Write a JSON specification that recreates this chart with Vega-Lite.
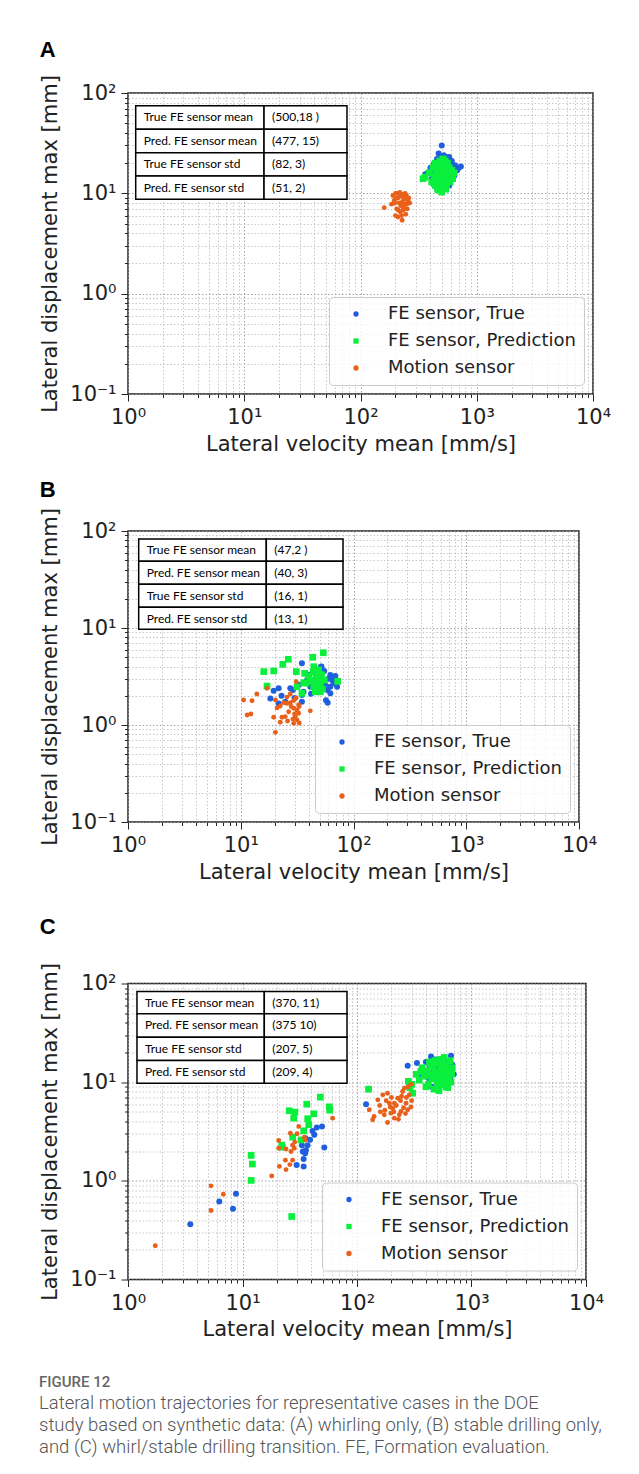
{
  "$schema": "https://vega.github.io/schema/vega-lite/v6.json",
  "background": "white",
  "padding": {"left": 39, "top": 37, "right": 5, "bottom": 5},
  "spacing": 31.5,
  "datasets": {
    "A_true": [
      {"vel":500,"disp":30},{"vel":470,"disp":25},{"vel":520,"disp":24},{"vel":545,"disp":23},{"vel":580,"disp":23},
      {"vel":455,"disp":22},{"vel":495,"disp":22},{"vel":610,"disp":21},{"vel":530,"disp":21},{"vel":430,"disp":20},
      {"vel":560,"disp":20},{"vel":600,"disp":19},{"vel":650,"disp":19},{"vel":700,"disp":18},{"vel":730,"disp":18.5},
      {"vel":680,"disp":17},{"vel":400,"disp":18},{"vel":380,"disp":16},{"vel":360,"disp":15.5},{"vel":420,"disp":17},
      {"vel":470,"disp":19},{"vel":510,"disp":19},{"vel":550,"disp":18},{"vel":590,"disp":17},{"vel":620,"disp":16},
      {"vel":480,"disp":17},{"vel":440,"disp":16},{"vel":520,"disp":16},{"vel":560,"disp":15},{"vel":500,"disp":14},
      {"vel":460,"disp":13},{"vel":540,"disp":13},{"vel":490,"disp":12},{"vel":450,"disp":11.5},{"vel":520,"disp":11},
      {"vel":600,"disp":14},{"vel":640,"disp":15},{"vel":410,"disp":14},{"vel":580,"disp":12},{"vel":470,"disp":15.5}
    ],
    "A_pred": [
      {"vel":360,"disp":14.5},{"vel":345,"disp":14},{"vel":390,"disp":16},{"vel":410,"disp":13},{"vel":420,"disp":18},
      {"vel":430,"disp":15},{"vel":440,"disp":12},{"vel":440,"disp":20},{"vel":450,"disp":17},{"vel":455,"disp":14},
      {"vel":460,"disp":11},{"vel":465,"disp":19},{"vel":470,"disp":16},{"vel":475,"disp":13},{"vel":480,"disp":21},
      {"vel":485,"disp":18},{"vel":490,"disp":15},{"vel":495,"disp":12},{"vel":500,"disp":10.3},{"vel":500,"disp":20},
      {"vel":505,"disp":17},{"vel":510,"disp":14},{"vel":515,"disp":11.5},{"vel":520,"disp":19},{"vel":525,"disp":16},
      {"vel":530,"disp":13},{"vel":535,"disp":21},{"vel":540,"disp":18},{"vel":545,"disp":15},{"vel":550,"disp":12},
      {"vel":555,"disp":17},{"vel":560,"disp":20},{"vel":565,"disp":14},{"vel":570,"disp":16},{"vel":580,"disp":18},
      {"vel":590,"disp":13},{"vel":600,"disp":15},{"vel":610,"disp":17},{"vel":620,"disp":14},{"vel":640,"disp":16},
      {"vel":460,"disp":12.5},{"vel":470,"disp":10.8},{"vel":480,"disp":11.3},{"vel":490,"disp":19.5},{"vel":515,"disp":22},
      {"vel":450,"disp":15.5},{"vel":520,"disp":13.5},{"vel":540,"disp":11},{"vel":430,"disp":12.5},{"vel":500,"disp":16}
    ],
    "A_motion": [
      {"vel":160,"disp":7.2},{"vel":185,"disp":7.8},{"vel":190,"disp":9.5},{"vel":195,"disp":8.5},{"vel":200,"disp":10},
      {"vel":200,"disp":6},{"vel":205,"disp":7},{"vel":210,"disp":9},{"vel":210,"disp":5.8},{"vel":215,"disp":8},
      {"vel":218,"disp":10.2},{"vel":220,"disp":6.5},{"vel":222,"disp":7.5},{"vel":225,"disp":9.3},{"vel":228,"disp":5.4},
      {"vel":230,"disp":8.3},{"vel":232,"disp":6.8},{"vel":235,"disp":9.8},{"vel":238,"disp":7.2},{"vel":240,"disp":8.8},
      {"vel":245,"disp":6.2},{"vel":248,"disp":9.5},{"vel":250,"disp":7.8},{"vel":255,"disp":8.5},{"vel":260,"disp":9},
      {"vel":265,"disp":8},{"vel":197,"disp":8},{"vel":207,"disp":10},{"vel":212,"disp":6.8},{"vel":226,"disp":6},
      {"vel":242,"disp":10},{"vel":252,"disp":7},{"vel":215,"disp":9.7},{"vel":235,"disp":7.9},{"vel":202,"disp":8.9}
    ],
    "B_true": [
      {"vel":34.9,"disp":4.33},{"vel":51.5,"disp":3.99},{"vel":62.3,"disp":3.27},{"vel":69,"disp":3.2},{"vel":66.7,"disp":2.69},
      {"vel":62.3,"disp":2.48},{"vel":71.6,"disp":2.48},{"vel":59,"disp":1.7},{"vel":62.3,"disp":2.12},{"vel":58.4,"disp":2.3},
      {"vel":41.4,"disp":2.48},{"vel":27.5,"disp":2.39},{"vel":21.7,"disp":2.39},{"vel":19.6,"disp":2.26},{"vel":18.3,"disp":1.88},
      {"vel":21.7,"disp":1.67},{"vel":24.8,"disp":1.74},{"vel":34.9,"disp":1.74},{"vel":34.9,"disp":2.04},{"vel":44.4,"disp":3.55},
      {"vel":47.8,"disp":3.15},{"vel":38.7,"disp":2.91},{"vel":52,"disp":4.0},{"vel":55,"disp":3.6},{"vel":60,"disp":3.0},
      {"vel":65,"disp":2.9},{"vel":57,"disp":1.8},{"vel":33,"disp":2.6},{"vel":29,"disp":2.3},{"vel":36,"disp":2.2},
      {"vel":45,"disp":2.7},{"vel":50,"disp":2.3},{"vel":40,"disp":3.3},{"vel":56,"disp":2.6},{"vel":23,"disp":2.0},
      {"vel":30,"disp":1.9},{"vel":42,"disp":2.1},{"vel":68,"disp":3.1}
    ],
    "B_pred": [
      {"vel":54,"disp":5.56},{"vel":43.5,"disp":4.99},{"vel":26.4,"disp":4.76},{"vel":23.6,"disp":4.22},{"vel":19.6,"disp":3.61},
      {"vel":16,"disp":3.55},{"vel":31.1,"disp":3.55},{"vel":36.9,"disp":3.41},{"vel":44.4,"disp":3.99},{"vel":46.8,"disp":3.15},
      {"vel":50.8,"disp":2.69},{"vel":72.4,"disp":2.82},{"vel":36.2,"disp":2.73},{"vel":44.4,"disp":2.48},{"vel":31.5,"disp":2.48},
      {"vel":34.9,"disp":2.12},{"vel":50.8,"disp":2.2},{"vel":17.1,"disp":2.52},{"vel":45.8,"disp":2.2},{"vel":44,"disp":3.5},
      {"vel":48,"disp":3.0},{"vel":52,"disp":3.3},{"vel":46,"disp":2.6},{"vel":50,"disp":2.4},{"vel":42,"disp":2.9},
      {"vel":55,"disp":2.9},{"vel":40,"disp":3.2},{"vel":47,"disp":2.25},{"vel":53,"disp":2.35},{"vel":49,"disp":3.7},
      {"vel":38,"disp":2.7}
    ],
    "B_motion": [
      {"vel":10.6,"disp":1.81},{"vel":12.6,"disp":1.78},{"vel":13.9,"disp":2.09},{"vel":17.1,"disp":2.39},{"vel":11.4,"disp":1.27},
      {"vel":12.3,"disp":1.3},{"vel":19.6,"disp":1.2},{"vel":23.2,"disp":1.2},{"vel":22.4,"disp":1.07},{"vel":20.3,"disp":0.84},
      {"vel":24,"disp":1.7},{"vel":25.7,"disp":1.67},{"vel":27.5,"disp":1.7},{"vel":29.5,"disp":1.49},{"vel":31.5,"disp":1.43},
      {"vel":32.6,"disp":1.32},{"vel":31.5,"disp":1.13},{"vel":29.5,"disp":1.04},{"vel":26.6,"disp":1.37},{"vel":41.4,"disp":1.4},
      {"vel":27.5,"disp":2.09},{"vel":22.4,"disp":1.57},{"vel":24.8,"disp":1.22},{"vel":30.5,"disp":1.22},{"vel":32.6,"disp":1.62},
      {"vel":29.5,"disp":1.79},{"vel":25.7,"disp":1.94},{"vel":20.3,"disp":1.81},{"vel":31,"disp":2.8},{"vel":33,"disp":1.05},
      {"vel":28,"disp":1.55},{"vel":30,"disp":1.3},{"vel":26,"disp":1.1},{"vel":21,"disp":1.5},{"vel":31,"disp":1.9},
      {"vel":29,"disp":1.15},{"vel":33,"disp":1.55}
    ],
    "C_true": [
      {"vel":3.5,"disp":0.363},{"vel":6.27,"disp":0.617},{"vel":8.26,"disp":0.52},{"vel":8.77,"disp":0.74},{"vel":29.7,"disp":1.45},
      {"vel":34.2,"disp":1.4},{"vel":34.2,"disp":1.66},{"vel":33.6,"disp":1.98},{"vel":35.8,"disp":2.04},{"vel":35.3,"disp":1.9},
      {"vel":38.9,"disp":2.61},{"vel":42.4,"disp":2.93},{"vel":44.5,"disp":3.47},{"vel":49.5,"disp":3.55},{"vel":51.8,"disp":2.18},
      {"vel":40.9,"disp":3.2},{"vel":33,"disp":2.3},{"vel":35.5,"disp":2.7},{"vel":37,"disp":2.3},{"vel":120,"disp":5.98},
      {"vel":277,"disp":14.7},{"vel":334,"disp":15.6},{"vel":443,"disp":18.2},{"vel":662,"disp":18.5},{"vel":400,"disp":16},
      {"vel":480,"disp":17},{"vel":520,"disp":16.5},{"vel":560,"disp":15},{"vel":600,"disp":16},{"vel":640,"disp":14},
      {"vel":680,"disp":15},{"vel":700,"disp":12},{"vel":380,"disp":13},{"vel":420,"disp":11},{"vel":460,"disp":12.5},
      {"vel":500,"disp":14},{"vel":540,"disp":12},{"vel":580,"disp":11},{"vel":620,"disp":10},{"vel":450,"disp":9},
      {"vel":510,"disp":8.5},{"vel":560,"disp":9.5},{"vel":650,"disp":11},{"vel":430,"disp":14.5},{"vel":350,"disp":12}
    ],
    "C_pred": [
      {"vel":26.9,"disp":0.435},{"vel":11.9,"disp":1.01},{"vel":12.2,"disp":1.48},{"vel":11.9,"disp":1.81},{"vel":22.3,"disp":2.19},
      {"vel":27.4,"disp":2.77},{"vel":25.6,"disp":5.13},{"vel":28.7,"disp":4.97},{"vel":28,"disp":4.32},{"vel":36.4,"disp":5.98},
      {"vel":47.8,"disp":7.05},{"vel":57.3,"disp":5.62},{"vel":57.8,"disp":5.2},{"vel":41.9,"disp":4.78},{"vel":37.1,"disp":4.26},
      {"vel":37.9,"disp":3.7},{"vel":34.2,"disp":3.21},{"vel":32.5,"disp":2.6},{"vel":22,"disp":2.3},{"vel":126,"disp":8.49},
      {"vel":281,"disp":10.2},{"vel":306,"disp":7.73},{"vel":290,"disp":8.8},{"vel":300,"disp":9.5},{"vel":578,"disp":17.8},
      {"vel":330,"disp":12},{"vel":350,"disp":10.5},{"vel":370,"disp":14},{"vel":390,"disp":11.5},{"vel":410,"disp":13},
      {"vel":420,"disp":9.5},{"vel":430,"disp":16},{"vel":440,"disp":12},{"vel":450,"disp":10.8},{"vel":460,"disp":14.5},
      {"vel":470,"disp":8.5},{"vel":480,"disp":13},{"vel":490,"disp":11},{"vel":500,"disp":15.5},{"vel":510,"disp":9},
      {"vel":520,"disp":12.5},{"vel":530,"disp":10},{"vel":540,"disp":14},{"vel":550,"disp":11.5},{"vel":560,"disp":16},
      {"vel":570,"disp":9.5},{"vel":580,"disp":13.5},{"vel":590,"disp":10.5},{"vel":600,"disp":12},{"vel":610,"disp":15},
      {"vel":620,"disp":8.8},{"vel":630,"disp":11},{"vel":640,"disp":13},{"vel":650,"disp":16.5},{"vel":660,"disp":10},
      {"vel":670,"disp":12},{"vel":680,"disp":14},{"vel":400,"disp":9},{"vel":440,"disp":15},{"vel":530,"disp":17},
      {"vel":470,"disp":11.8},{"vel":500,"disp":10},{"vel":520,"disp":8.2},{"vel":560,"disp":13},{"vel":600,"disp":9},
      {"vel":360,"disp":12.8},{"vel":480,"disp":16.5},{"vel":620,"disp":11.8}
    ],
    "C_motion": [
      {"vel":1.73,"disp":0.22},{"vel":5.31,"disp":0.89},{"vel":5.31,"disp":0.5},{"vel":6.8,"disp":0.73},{"vel":18,"disp":1.12},
      {"vel":21,"disp":1.4},{"vel":24,"disp":1.3},{"vel":20.7,"disp":2.56},{"vel":20.7,"disp":2.14},{"vel":23.7,"disp":1.62},
      {"vel":27.4,"disp":1.62},{"vel":26.2,"disp":3.04},{"vel":26.5,"disp":1.98},{"vel":28.3,"disp":2.14},{"vel":28.6,"disp":2.47},
      {"vel":31,"disp":3.56},{"vel":34.7,"disp":2.77},{"vel":35.3,"disp":2.6},{"vel":61.3,"disp":4.32},{"vel":25.9,"disp":1.46},
      {"vel":27.4,"disp":2.3},{"vel":30,"disp":3.0},{"vel":24,"disp":2.1},
      {"vel":128,"disp":5.25},{"vel":137,"disp":4.16},{"vel":141,"disp":4.5},{"vel":152,"disp":6.62},{"vel":168,"disp":7.44},
      {"vel":185,"disp":7.73},{"vel":192,"disp":6.12},{"vel":205,"disp":5.45},{"vel":212,"disp":4.32},{"vel":227,"disp":6.88},
      {"vel":242,"disp":5.05},{"vel":250,"disp":8.04},{"vel":268,"disp":6.12},{"vel":277,"disp":5.25},{"vel":286,"disp":7.44},
      {"vel":260,"disp":8.7},{"vel":173,"disp":4.67},{"vel":198,"disp":4.85},{"vel":158,"disp":5.8},{"vel":234,"disp":4.67},
      {"vel":185,"disp":3.9},{"vel":212,"disp":6.12},{"vel":296,"disp":5.6},{"vel":180,"disp":6.5},{"vel":200,"disp":7},
      {"vel":220,"disp":5.8},{"vel":240,"disp":6.5},{"vel":255,"disp":5.5},{"vel":265,"disp":4.8},{"vel":230,"disp":4.2},
      {"vel":210,"disp":5},{"vel":195,"disp":5.6},{"vel":175,"disp":5.2},{"vel":245,"disp":7.2},{"vel":270,"disp":7},
      {"vel":300,"disp":6.5},{"vel":160,"disp":5},{"vel":280,"disp":9},{"vel":296,"disp":9.5}
    ],
    "table_A": [
      {"label":"True FE sensor mean","value":"(500,18 )","top":74.7,"bottom":43.5},
      {"label":"Pred. FE sensor mean","value":"(477, 15)","top":43.5,"bottom":25.4},
      {"label":"True FE sensor std","value":"(82, 3)","top":25.4,"bottom":14.9},
      {"label":"Pred. FE sensor std","value":"(51, 2)","top":14.9,"bottom":8.72}
    ],
    "table_B": [
      {"label":"True FE sensor mean","value":"(47,2 )","top":82.7,"bottom":48.7},
      {"label":"Pred. FE sensor mean","value":"(40, 3)","top":48.7,"bottom":28.2},
      {"label":"True FE sensor std","value":"(16, 1)","top":28.2,"bottom":16.35},
      {"label":"Pred. FE sensor std","value":"(13, 1)","top":16.35,"bottom":9.7}
    ],
    "table_C": [
      {"label":"True FE sensor mean","value":"(370, 11)","top":82.9,"bottom":49.3},
      {"label":"Pred. FE sensor mean","value":"(375 10)","top":49.3,"bottom":28.6},
      {"label":"True FE sensor std","value":"(207, 5)","top":28.6,"bottom":16.6},
      {"label":"Pred. FE sensor std","value":"(209, 4)","top":16.6,"bottom":9.76}
    ]
  },
  "title": {
    "text": "FIGURE 12",
    "subtitle": [
      "Lateral motion trajectories for representative cases in the DOE",
      "study based on synthetic data: (A) whirling only, (B) stable drilling only,",
      "and (C) whirl/stable drilling transition. FE, Formation evaluation."
    ],
    "orient": "bottom", "anchor": "start", "frame": "bounds",
    "font": "Roboto", "fontSize": 15, "fontWeight": 500, "color": "#666666",
    "subtitleFont": "Roboto", "subtitleFontSize": 18.5, "subtitleFontWeight": 300, "subtitleColor": "#555555",
    "subtitleLineHeight": 22, "subtitlePadding": 4, "offset": 35
  },
  "resolve": {
    "scale": {"color": "independent", "shape": "independent"},
    "legend": {"color": "independent", "shape": "independent"}
  },
  "vconcat": [
    {
      "spacing": 22,
      "resolve": {
        "scale": {"color": "independent", "shape": "independent"},
        "legend": {"color": "independent", "shape": "independent"}
      },
      "vconcat": [
        {
          "title": {"text": "A", "anchor": "start", "frame": "bounds", "font": "Liberation Sans", "fontSize": 22, "fontWeight": "bold", "color": "#000000", "offset": 13},
          "width": 465, "height": 301,
          "layer": [
            {
              "encoding": {
                "x": {"field": "vel", "type": "quantitative", "scale": {"type": "log", "domain": [1, 10000], "nice": false},
                  "axis": {"title": "Lateral velocity mean [mm/s]", "values": [1,2,3,4,5,6,7,8,9,10,20,30,40,50,60,70,80,90,100,200,300,400,500,600,700,800,900,1000,2000,3000,4000,5000,6000,7000,8000,9000,10000],
                    "labelExpr": "datum.value == 1 ? '10⁰' : datum.value == 10 ? '10¹' : datum.value == 100 ? '10²' : datum.value == 1000 ? '10³' : datum.value == 10000 ? '10⁴' : ''",
                    "tickSize": {"condition": {"test": "indexof([1,10,100,1000,10000], datum.value) >= 0", "value": 7}, "value": 3.5},
                    "gridColor": {"condition": {"test": "indexof([1,10,100,1000,10000], datum.value) >= 0", "value": "#9a9a9a"}, "value": "#c2c2c2"}}},
                "y": {"field": "disp", "type": "quantitative", "scale": {"type": "log", "domain": [0.1, 100], "nice": false},
                  "axis": {"title": "Lateral displacement max [mm]", "values": [0.1,0.2,0.3,0.4,0.5,0.6,0.7,0.8,0.9,1,2,3,4,5,6,7,8,9,10,20,30,40,50,60,70,80,90,100],
                    "labelExpr": "datum.value == 0.1 ? '10⁻¹' : datum.value == 1 ? '10⁰' : datum.value == 10 ? '10¹' : datum.value == 100 ? '10²' : ''",
                    "tickSize": {"condition": {"test": "indexof([0.1,1,10,100], datum.value) >= 0", "value": 7}, "value": 3.5},
                    "gridColor": {"condition": {"test": "indexof([0.1,1,10,100], datum.value) >= 0", "value": "#9a9a9a"}, "value": "#c2c2c2"}}}
              },
              "layer": [
                {"data": {"name": "A_true"}, "mark": {"type": "point", "filled": true, "opacity": 1, "size": 36},
                 "encoding": {"color": {"datum": "FE sensor, True", "type": "nominal", "scale": {"domain": ["FE sensor, True", "FE sensor, Prediction", "Motion sensor"], "range": ["#1f5fdc", "#0aef3c", "#e8601a"]}, "legend": {"title": null}},
                              "shape": {"datum": "FE sensor, True", "type": "nominal", "scale": {"domain": ["FE sensor, True", "FE sensor, Prediction", "Motion sensor"], "range": ["circle", "square", "circle"]}, "legend": {"title": null}}}},
                {"data": {"name": "A_pred"}, "mark": {"type": "point", "filled": true, "opacity": 1, "size": 45},
                 "encoding": {"color": {"datum": "FE sensor, Prediction", "type": "nominal"}, "shape": {"datum": "FE sensor, Prediction", "type": "nominal"}}},
                {"data": {"name": "A_motion"}, "mark": {"type": "point", "filled": true, "opacity": 1, "size": 24},
                 "encoding": {"color": {"datum": "Motion sensor", "type": "nominal"}, "shape": {"datum": "Motion sensor", "type": "nominal"}}}
              ]
            },
            {
              "data": {"name": "table_A"},
              "encoding": {"y": {"field": "top", "type": "quantitative", "scale": {"type": "log"}}},
              "layer": [
                {"mark": {"type": "rect", "fill": "white", "stroke": "black", "strokeWidth": 1.5},
                 "encoding": {"x": {"datum": 1.165, "type": "quantitative", "scale": {"type": "log"}}, "x2": {"datum": 14.8}, "y2": {"field": "bottom"}}},
                {"mark": {"type": "rect", "fill": "white", "stroke": "black", "strokeWidth": 1.5},
                 "encoding": {"x": {"datum": 14.8, "type": "quantitative", "scale": {"type": "log"}}, "x2": {"datum": 76.5}, "y2": {"field": "bottom"}}},
                {"mark": {"type": "text", "align": "left", "baseline": "middle", "dx": 8, "dy": 11.7, "font": "Lato", "fontSize": 12, "color": "black"},
                 "encoding": {"x": {"datum": 1.165, "type": "quantitative", "scale": {"type": "log"}}, "text": {"field": "label"}}},
                {"mark": {"type": "text", "align": "left", "baseline": "middle", "dx": 8, "dy": 11.7, "font": "Lato", "fontSize": 12, "color": "black"},
                 "encoding": {"x": {"datum": 14.8, "type": "quantitative", "scale": {"type": "log"}}, "text": {"field": "value"}}}
              ]
            }
          ]
        },
        {
          "title": {"text": "B", "anchor": "start", "frame": "bounds", "font": "Liberation Sans", "fontSize": 22, "fontWeight": "bold", "color": "#000000", "offset": 6},
          "width": 451, "height": 291,
          "layer": [
            {
              "encoding": {
                "x": {"field": "vel", "type": "quantitative", "scale": {"type": "log", "domain": [1, 10000], "nice": false},
                  "axis": {"title": "Lateral velocity mean [mm/s]", "values": [1,2,3,4,5,6,7,8,9,10,20,30,40,50,60,70,80,90,100,200,300,400,500,600,700,800,900,1000,2000,3000,4000,5000,6000,7000,8000,9000,10000],
                    "labelExpr": "datum.value == 1 ? '10⁰' : datum.value == 10 ? '10¹' : datum.value == 100 ? '10²' : datum.value == 1000 ? '10³' : datum.value == 10000 ? '10⁴' : ''",
                    "tickSize": {"condition": {"test": "indexof([1,10,100,1000,10000], datum.value) >= 0", "value": 7}, "value": 3.5},
                    "gridColor": {"condition": {"test": "indexof([1,10,100,1000,10000], datum.value) >= 0", "value": "#9a9a9a"}, "value": "#c2c2c2"}}},
                "y": {"field": "disp", "type": "quantitative", "scale": {"type": "log", "domain": [0.1, 100], "nice": false},
                  "axis": {"title": "Lateral displacement max [mm]", "values": [0.1,0.2,0.3,0.4,0.5,0.6,0.7,0.8,0.9,1,2,3,4,5,6,7,8,9,10,20,30,40,50,60,70,80,90,100],
                    "labelExpr": "datum.value == 0.1 ? '10⁻¹' : datum.value == 1 ? '10⁰' : datum.value == 10 ? '10¹' : datum.value == 100 ? '10²' : ''",
                    "tickSize": {"condition": {"test": "indexof([0.1,1,10,100], datum.value) >= 0", "value": 7}, "value": 3.5},
                    "gridColor": {"condition": {"test": "indexof([0.1,1,10,100], datum.value) >= 0", "value": "#9a9a9a"}, "value": "#c2c2c2"}}}
              },
              "layer": [
                {"data": {"name": "B_true"}, "mark": {"type": "point", "filled": true, "opacity": 1, "size": 36},
                 "encoding": {"color": {"datum": "FE sensor, True", "type": "nominal", "scale": {"domain": ["FE sensor, True", "FE sensor, Prediction", "Motion sensor"], "range": ["#1f5fdc", "#0aef3c", "#e8601a"]}, "legend": {"title": null}},
                              "shape": {"datum": "FE sensor, True", "type": "nominal", "scale": {"domain": ["FE sensor, True", "FE sensor, Prediction", "Motion sensor"], "range": ["circle", "square", "circle"]}, "legend": {"title": null}}}},
                {"data": {"name": "B_pred"}, "mark": {"type": "point", "filled": true, "opacity": 1, "size": 45},
                 "encoding": {"color": {"datum": "FE sensor, Prediction", "type": "nominal"}, "shape": {"datum": "FE sensor, Prediction", "type": "nominal"}}},
                {"data": {"name": "B_motion"}, "mark": {"type": "point", "filled": true, "opacity": 1, "size": 24},
                 "encoding": {"color": {"datum": "Motion sensor", "type": "nominal"}, "shape": {"datum": "Motion sensor", "type": "nominal"}}}
              ]
            },
            {
              "data": {"name": "table_B"},
              "encoding": {"y": {"field": "top", "type": "quantitative", "scale": {"type": "log"}}},
              "layer": [
                {"mark": {"type": "rect", "fill": "white", "stroke": "black", "strokeWidth": 1.5},
                 "encoding": {"x": {"datum": 1.244, "type": "quantitative", "scale": {"type": "log"}}, "x2": {"datum": 16.85}, "y2": {"field": "bottom"}}},
                {"mark": {"type": "rect", "fill": "white", "stroke": "black", "strokeWidth": 1.5},
                 "encoding": {"x": {"datum": 16.85, "type": "quantitative", "scale": {"type": "log"}}, "x2": {"datum": 80.7}, "y2": {"field": "bottom"}}},
                {"mark": {"type": "text", "align": "left", "baseline": "middle", "dx": 8, "dy": 11.4, "font": "Lato", "fontSize": 12, "color": "black"},
                 "encoding": {"x": {"datum": 1.244, "type": "quantitative", "scale": {"type": "log"}}, "text": {"field": "label"}}},
                {"mark": {"type": "text", "align": "left", "baseline": "middle", "dx": 8, "dy": 11.4, "font": "Lato", "fontSize": 12, "color": "black"},
                 "encoding": {"x": {"datum": 16.85, "type": "quantitative", "scale": {"type": "log"}}, "text": {"field": "value"}}}
              ]
            }
          ]
        }
      ]
    },
    {
      "title": {"text": "C", "anchor": "start", "frame": "bounds", "font": "Liberation Sans", "fontSize": 22, "fontWeight": "bold", "color": "#000000", "offset": 23.5},
      "width": 458, "height": 296,
      "layer": [
        {
          "encoding": {
            "x": {"field": "vel", "type": "quantitative", "scale": {"type": "log", "domain": [1, 10000], "nice": false},
              "axis": {"title": "Lateral velocity mean [mm/s]", "values": [1,2,3,4,5,6,7,8,9,10,20,30,40,50,60,70,80,90,100,200,300,400,500,600,700,800,900,1000,2000,3000,4000,5000,6000,7000,8000,9000,10000],
                "labelExpr": "datum.value == 1 ? '10⁰' : datum.value == 10 ? '10¹' : datum.value == 100 ? '10²' : datum.value == 1000 ? '10³' : datum.value == 10000 ? '10⁴' : ''",
                "tickSize": {"condition": {"test": "indexof([1,10,100,1000,10000], datum.value) >= 0", "value": 7}, "value": 3.5},
                "gridColor": {"condition": {"test": "indexof([1,10,100,1000,10000], datum.value) >= 0", "value": "#9a9a9a"}, "value": "#c2c2c2"}}},
            "y": {"field": "disp", "type": "quantitative", "scale": {"type": "log", "domain": [0.1, 100], "nice": false},
              "axis": {"title": "Lateral displacement max [mm]", "values": [0.1,0.2,0.3,0.4,0.5,0.6,0.7,0.8,0.9,1,2,3,4,5,6,7,8,9,10,20,30,40,50,60,70,80,90,100],
                "labelExpr": "datum.value == 0.1 ? '10⁻¹' : datum.value == 1 ? '10⁰' : datum.value == 10 ? '10¹' : datum.value == 100 ? '10²' : ''",
                "tickSize": {"condition": {"test": "indexof([0.1,1,10,100], datum.value) >= 0", "value": 7}, "value": 3.5},
                "gridColor": {"condition": {"test": "indexof([0.1,1,10,100], datum.value) >= 0", "value": "#9a9a9a"}, "value": "#c2c2c2"}}}
          },
          "layer": [
            {"data": {"name": "C_true"}, "mark": {"type": "point", "filled": true, "opacity": 1, "size": 36},
             "encoding": {"color": {"datum": "FE sensor, True", "type": "nominal", "scale": {"domain": ["FE sensor, True", "FE sensor, Prediction", "Motion sensor"], "range": ["#1f5fdc", "#0aef3c", "#e8601a"]}, "legend": {"title": null}},
                          "shape": {"datum": "FE sensor, True", "type": "nominal", "scale": {"domain": ["FE sensor, True", "FE sensor, Prediction", "Motion sensor"], "range": ["circle", "square", "circle"]}, "legend": {"title": null}}}},
            {"data": {"name": "C_pred"}, "mark": {"type": "point", "filled": true, "opacity": 1, "size": 45},
             "encoding": {"color": {"datum": "FE sensor, Prediction", "type": "nominal"}, "shape": {"datum": "FE sensor, Prediction", "type": "nominal"}}},
            {"data": {"name": "C_motion"}, "mark": {"type": "point", "filled": true, "opacity": 1, "size": 24},
             "encoding": {"color": {"datum": "Motion sensor", "type": "nominal"}, "shape": {"datum": "Motion sensor", "type": "nominal"}}}
          ]
        },
        {
          "data": {"name": "table_C"},
          "encoding": {"y": {"field": "top", "type": "quantitative", "scale": {"type": "log"}}},
          "layer": [
            {"mark": {"type": "rect", "fill": "white", "stroke": "black", "strokeWidth": 1.5},
             "encoding": {"x": {"datum": 1.198, "type": "quantitative", "scale": {"type": "log"}}, "x2": {"datum": 15.5}, "y2": {"field": "bottom"}}},
            {"mark": {"type": "rect", "fill": "white", "stroke": "black", "strokeWidth": 1.5},
             "encoding": {"x": {"datum": 15.5, "type": "quantitative", "scale": {"type": "log"}}, "x2": {"datum": 81.8}, "y2": {"field": "bottom"}}},
            {"mark": {"type": "text", "align": "left", "baseline": "middle", "dx": 8, "dy": 11.4, "font": "Lato", "fontSize": 12, "color": "black"},
             "encoding": {"x": {"datum": 1.198, "type": "quantitative", "scale": {"type": "log"}}, "text": {"field": "label"}}},
            {"mark": {"type": "text", "align": "left", "baseline": "middle", "dx": 8, "dy": 11.4, "font": "Lato", "fontSize": 12, "color": "black"},
             "encoding": {"x": {"datum": 15.5, "type": "quantitative", "scale": {"type": "log"}}, "text": {"field": "value"}}}
          ]
        }
      ]
    }
  ],
  "config": {
    "view": {"stroke": "#262626", "strokeWidth": 1.5},
    "axis": {
      "domain": false, "grid": true, "gridDash": [1.5, 2], "gridWidth": 0.9,
      "tickColor": "#262626", "tickWidth": 1,
      "labelFont": "DejaVu Sans", "labelFontSize": 21, "labelColor": "#222222",
      "titleFont": "DejaVu Sans", "titleFontSize": 21, "titleFontWeight": "normal", "titleColor": "#222222",
      "labelFlush": false, "labelOverlap": false, "labelBound": false
    },
    "axisX": {"labelPadding": 5.5, "titlePadding": 5.5},
    "axisY": {"labelPadding": 5, "titlePadding": 9},
    "legend": {
      "orient": "bottom-right", "offset": 9, "padding": 8, "rowPadding": 9,
      "symbolSize": 28, "symbolOffset": 10, "labelOffset": 23, "labelLimit": 0,
      "strokeColor": "#cccccc", "cornerRadius": 4, "fillColor": "rgba(255,255,255,0.8)",
      "labelFont": "DejaVu Sans", "labelFontSize": 18, "labelColor": "#222222"
    }
  }
}
